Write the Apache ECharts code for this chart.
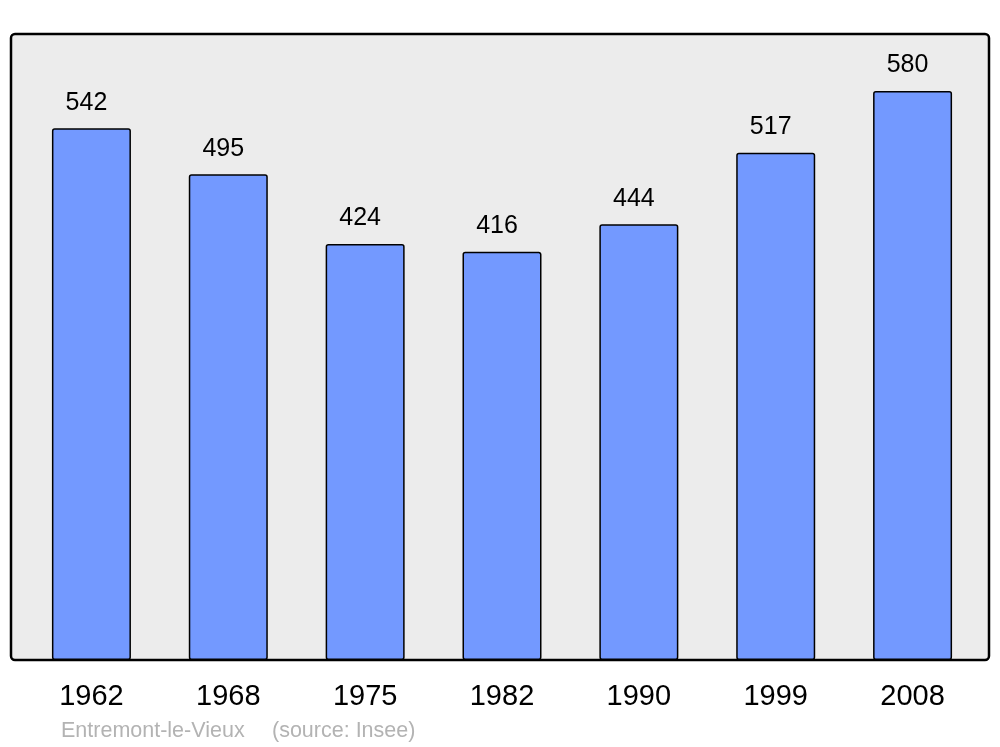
<!DOCTYPE html>
<html>
<head>
<meta charset="utf-8">
<script src="https://cdn.jsdelivr.net/npm/echarts@6/dist/echarts.min.js"></script>
<style>
html,body{margin:0;padding:0;background:#fff;}
#chart{width:1000px;height:747px;}
</style>
</head>
<body>
<div id="chart"></div>
<script>
const years = ['1962', '1968', '1975', '1982', '1990', '1999', '2008'];
const population = [542, 495, 424, 416, 444, 517, 580];
const placeName = 'Entremont-le-Vieux';
const sourceText = '(source: Insee)';

const chart = echarts.init(document.getElementById('chart'), null, {renderer: 'canvas'});
const FONT = '"Liberation Sans", Arial, sans-serif';

chart.setOption({
  backgroundColor: '#ffffff',
  animation: false,
  graphic: [
    {
      type: 'rect',
      z: -10,
      silent: true,
      shape: {x: 11, y: 34, width: 978, height: 626, r: 4},
      style: {fill: '#ececec', stroke: '#000000', lineWidth: 2.5}
    },
    {
      type: 'text',
      left: 61,
      top: 720,
      style: {text: placeName, fill: '#b3b3b3', font: '21.5px ' + FONT}
    },
    {
      type: 'text',
      left: 272,
      top: 720,
      style: {text: sourceText, fill: '#b3b3b3', font: '21.5px ' + FONT}
    }
  ],
  grid: {left: 23, width: 958, top: 32, height: 628, containLabel: false},
  xAxis: {
    type: 'category',
    data: years,
    boundaryGap: true,
    axisLine: {show: false},
    axisTick: {show: false},
    axisLabel: {
      color: '#000',
      fontSize: 29,
      fontFamily: FONT,
      margin: 22
    }
  },
  yAxis: {
    type: 'value',
    min: 0,
    max: 640,
    show: false,
    splitLine: {show: false}
  },
  series: [{
    type: 'bar',
    data: population,
    barWidth: 79,
    itemStyle: {
      color: '#7399ff',
      borderColor: '#000',
      borderWidth: 1.5,
      borderRadius: 2
    },
    label: {
      show: true,
      position: 'top',
      distance: 13,
      offset: [-5, 0],
      color: '#000',
      fontSize: 25,
      fontFamily: FONT
    }
  }]
});
</script>
</body>
</html>
